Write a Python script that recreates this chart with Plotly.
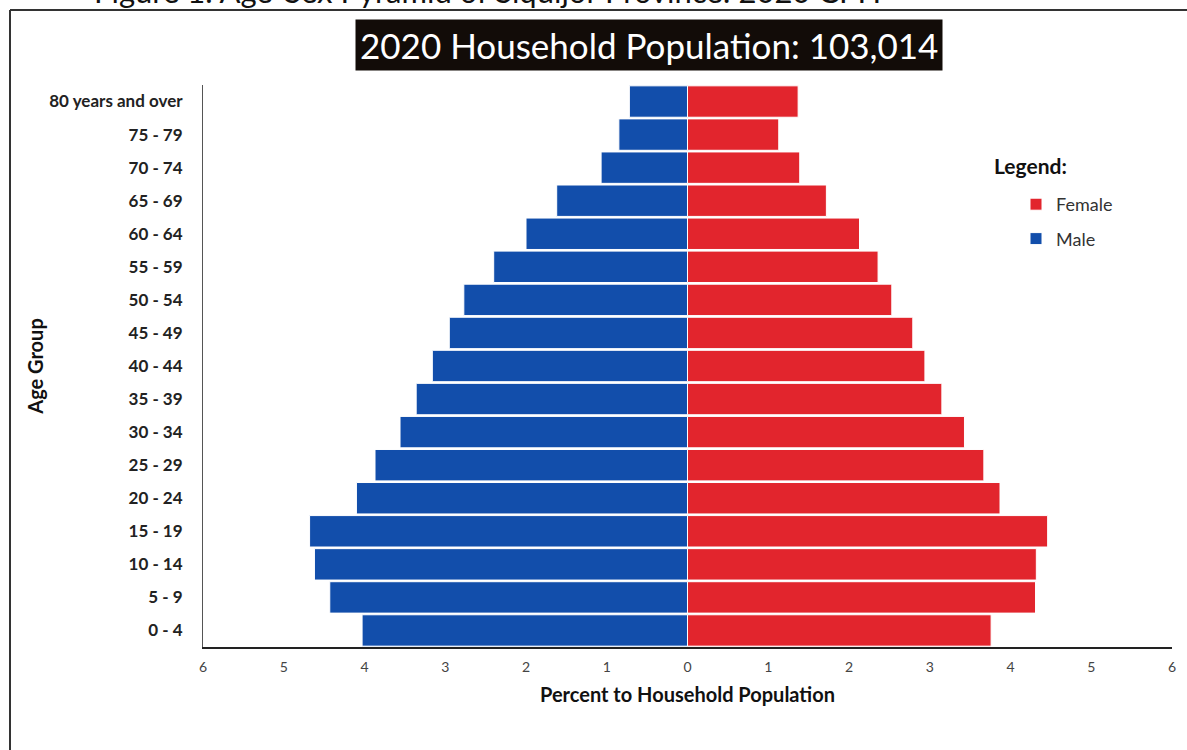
import plotly.graph_objects as go

age_groups = ["0 - 4", "5 - 9", "10 - 14", "15 - 19", "20 - 24", "25 - 29", "30 - 34",
              "35 - 39", "40 - 44", "45 - 49", "50 - 54", "55 - 59", "60 - 64",
              "65 - 69", "70 - 74", "75 - 79", "80 years and over"]
male = [4.03, 4.43, 4.62, 4.68, 4.10, 3.87, 3.56, 3.36, 3.16, 2.95, 2.77, 2.40, 2.00,
        1.62, 1.07, 0.85, 0.72]
female = [3.76, 4.31, 4.32, 4.46, 3.87, 3.67, 3.43, 3.15, 2.94, 2.79, 2.53, 2.36, 2.13,
          1.72, 1.39, 1.13, 1.37]
tick_vals = [-6, -5, -4, -3, -2, -1, 0, 1, 2, 3, 4, 5, 6]
tick_text = ["6", "5", "4", "3", "2", "1", "0", "1", "2", "3", "4", "5", "6"]

BLUE = "#124EAB"
RED = "#E2252D"
FONT = "Lato"

fig = go.Figure()
fig.add_trace(go.Bar(y=age_groups, x=female, orientation="h", name="Female",
                     legendgroup="f", marker=dict(color=RED, line=dict(color="white", width=1))))
fig.add_trace(go.Bar(y=age_groups, x=[-v for v in male], orientation="h", name="Male",
                     legendgroup="m", marker=dict(color=BLUE, line=dict(color="white", width=1))))

W, H = 1187, 750
L, R, T, B = 203, 15, 85, 103
pw, ph = W - L - R, H - T - B


def px(x):
    return (x - L) / pw


def py(y):
    return (H - B - y) / ph


fig.update_layout(
    width=W, height=H,
    margin=dict(l=L, r=R, t=T, b=B),
    paper_bgcolor="white", plot_bgcolor="white",
    barmode="overlay", bargap=0.05,
    font=dict(family=FONT, color="#222"),
    showlegend=True,
    legend=dict(x=px(1016), y=py(186), xanchor="left", yanchor="top",
                font=dict(size=18, color="#333"), tracegroupgap=8,
                traceorder="grouped", bgcolor="rgba(0,0,0,0)"),
    xaxis=dict(range=[-6, 6], tickvals=tick_vals, ticktext=tick_text,
               showgrid=False, zeroline=False, showline=True, linecolor="#222",
               linewidth=2, ticks="", tickfont=dict(size=14, color="#444"),
               ticklabelstandoff=6,
               title=dict(text="<b>Percent to Household Population</b>",
                          font=dict(size=20, color="#111"), standoff=14)),
    yaxis=dict(categoryorder="array", categoryarray=age_groups, showgrid=False,
               zeroline=False, showline=True, linecolor="#555", linewidth=1,
               ticks="", tickfont=dict(size=17, color="#222", weight="bold"),
               ticklabelstandoff=16,
               title=dict(text="<b>Age Group</b>", font=dict(size=20, color="#111"),
                          standoff=0)),
    annotations=[
        dict(text="2020 Household Population: 103,014", xref="paper", yref="paper",
             x=px(649), y=py(45), xanchor="center", yanchor="middle", showarrow=False,
             font=dict(family=FONT, size=35, color="white"), bgcolor="#120c08",
             borderpad=4),
        dict(text="<b>Legend:</b>", xref="paper", yref="paper", x=px(992), y=py(165),
             xanchor="left", yanchor="middle", showarrow=False,
             font=dict(family=FONT, size=21, color="#111")),
        dict(text="Figure 1. Age-Sex Pyramid of Siquijor Province: 2020 CPH", xref="paper",
             yref="paper", x=px(92), y=py(12), xanchor="left", yanchor="bottom",
             showarrow=False, font=dict(family=FONT, size=31, color="#111")),
    ],
    shapes=[
        dict(type="line", xref="paper", yref="paper", x0=px(10), x1=px(1187),
             y0=py(10), y1=py(10), line=dict(color="#333", width=2)),
        dict(type="line", xref="paper", yref="paper", x0=px(10), x1=px(10),
             y0=py(10), y1=py(750), line=dict(color="#333", width=2)),
    ],
)

fig.write_html("out.html", config={"displayModeBar": False},
               post_script="document.body.style.margin='0';")
